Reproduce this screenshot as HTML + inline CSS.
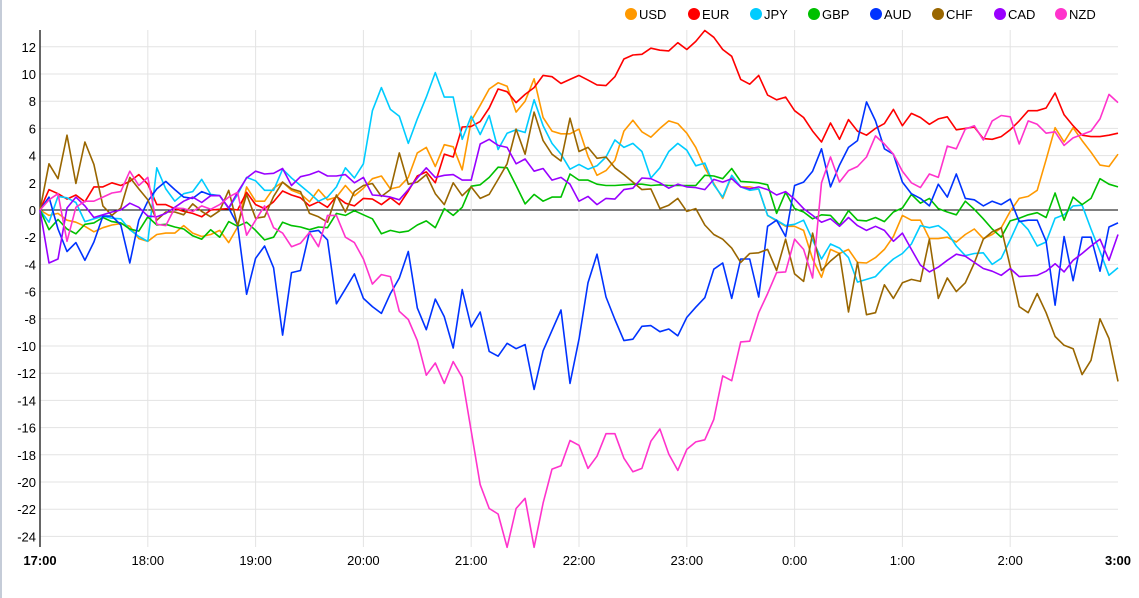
<!DOCTYPE html>
<html><head><meta charset="utf-8"><style>
html,body{margin:0;padding:0;background:#fff;}
body{width:1139px;height:598px;overflow:hidden;border-left:2px solid #c5ccd8;box-sizing:border-box;}
svg{position:absolute;left:0;top:0;font-family:"Liberation Sans",Arial,sans-serif;}
</style></head><body>
<svg id="chart" width="1139" height="598" xmlns="http://www.w3.org/2000/svg"></svg>
<script>
const currencies = ["USD","EUR","JPY","GBP","AUD","CHF","CAD","NZD"];
const colors = ["#ff9900","#ff0000","#00ccff","#00c000","#0033ff","#996600","#9900ff","#ff33cc"];
const xTickLabels = ["17:00","18:00","19:00","20:00","21:00","22:00","23:00","0:00","1:00","2:00","3:00"];
const yTicks = [12,10,8,6,4,2,0,-2,-4,-6,-8,-10,-12,-14,-16,-18,-20,-22,-24];
const USD = [0,-0.4,-0.25,-0.75,-0.9,-1.2,-1.6,-1.3,-1.1,-1.0,-1.2,-2.1,-2.3,-1.8,-1.7,-1.7,-1.15,-1.7,-1.95,-1.8,-1.5,-2.4,-1.25,1.7,0.65,0.65,1.6,2.05,1.45,1.2,0.6,1.5,0.75,0.95,1.8,1.05,1.6,2.3,2.5,1.55,1.7,2.4,4.2,4.6,3.2,4.8,4.65,2.95,6.55,7.7,8.9,9.35,9.1,7.2,8.0,9.65,6.8,5.8,5.6,5.6,5.95,3.95,2.55,2.9,3.65,5.8,6.6,5.75,5.35,6.0,6.55,6.35,5.65,4.6,3.1,1.95,0.85,2.5,1.7,1.7,1.55,-0.4,-0.8,-1.2,-1.2,-1.5,-3.6,-4.95,-2.9,-3.2,-2.9,-3.85,-3.9,-3.5,-2.9,-1.95,-0.4,-0.75,-0.75,-2.1,-2.1,-2.0,-2.35,-1.8,-1.4,-2.1,-1.8,-1.3,-0.1,0.85,1.0,1.45,3.7,6.05,5.0,6.05,5.1,4.25,3.3,3.2,4.1];
const EUR = [0,1.5,1.2,0.8,1.1,0.6,1.7,1.7,2.0,1.8,2.1,2.6,1.9,0.4,0.4,0.1,-0.1,-0.25,-0.5,0,0.05,0.1,0,1.3,0.4,0.1,0.6,1.4,1.1,0.9,0.3,0.6,0.2,1.0,0.5,0.3,0.85,0.8,0.4,0.9,0.4,1.4,2.5,2.8,2.0,4.1,3.9,6.1,6.15,6.5,7.5,8.9,8.7,7.9,8.5,9.0,9.9,9.8,9.3,9.6,9.9,9.55,9.2,9.15,9.8,11.1,11.4,11.45,11.9,11.75,11.7,12.3,11.8,12.4,13.2,12.7,11.8,11.3,9.6,9.25,9.9,8.45,8.1,8.3,7.3,6.8,5.8,5.0,6.4,5.2,6.65,5.8,5.5,6.0,6.35,7.4,6.2,7.1,6.8,6.3,6.7,6.85,5.9,6.0,6.1,5.25,5.2,5.4,5.9,6.55,7.3,7.3,7.5,8.6,7.0,6.2,5.5,5.4,5.4,5.5,5.65];
const JPY = [0,-0.9,1.0,0.9,0.55,-0.85,-0.65,-0.45,-0.6,-0.65,-1.45,-1.95,-2.3,3.1,1.55,0.65,1.2,1.35,2.25,1.15,1.05,0.1,1.15,2.4,2.15,1.45,1.45,3.0,2.35,1.8,1.25,0.65,0.95,1.7,3.1,2.35,3.4,7.3,9.0,7.4,6.9,4.9,6.7,8.3,10.1,8.3,8.3,5.2,6.9,5.55,6.95,4.45,5.65,5.9,5.7,8.1,6.2,4.9,4.1,3.0,3.35,3.0,3.25,3.9,5.15,4.6,4.9,4.3,2.35,3.1,4.3,4.9,4.4,3.25,3.45,1.85,0.95,2.55,1.7,1.45,1.55,-0.4,-0.75,-1.15,-1.05,-0.75,-2.2,-3.6,-2.5,-2.8,-3.5,-5.3,-5.1,-4.9,-4.2,-3.6,-3.2,-2.5,-1.15,-1.3,-1.15,-1.65,-2.65,-3.35,-3.2,-3.15,-4.0,-3.55,-2.2,-0.75,-1.45,-2.65,-2.35,-0.6,-0.35,0.3,0.35,-1.4,-3.05,-4.8,-4.25];
const GBP = [0,-1.45,-0.7,-1.4,-1.75,-1.05,-0.95,-0.55,-0.85,-0.95,-1.4,-1.55,-0.5,-1.1,-1.05,-1.25,-1.4,-1.9,-2.15,-1.45,-2.0,-0.85,-1.2,-0.9,-1.5,-2.2,-2.0,-0.9,-1.15,-1.25,-1.45,-1.25,-1.3,-0.25,-0.4,-0.05,-0.35,-0.65,-1.75,-1.5,-1.65,-1.55,-1.1,-0.8,-1.3,0.1,-0.4,0.2,1.75,1.85,2.4,3.15,3.1,1.8,0.45,1.15,0.65,0.95,0.95,2.65,2.2,2.2,1.9,1.8,1.8,1.85,1.9,1.9,1.8,1.85,1.8,1.8,1.8,1.8,2.55,2.5,2.3,3.05,2.1,2.05,2.0,1.85,-0.25,1.3,0.1,-0.15,-0.65,-0.35,-0.4,-1.1,-0.05,-0.75,-0.8,-0.55,-0.85,-0.15,0.15,1.15,0.5,0.85,0.1,-0.15,-0.35,0.65,0.05,-0.65,-1.4,-2.0,-0.8,-0.6,-0.35,-0.2,-0.55,1.25,-0.75,0.95,0.4,0.85,2.3,1.9,1.7];
const AUD = [0,0.95,-1.4,-3.05,-2.4,-3.7,-2.35,-0.45,-0.45,-1.1,-3.9,-0.75,0.65,1.55,2.1,1.5,0.95,0.85,1.35,1.1,1.05,0.15,-1.1,-6.2,-3.55,-2.65,-4.25,-9.2,-4.6,-4.45,-1.6,-1.5,-2.2,-6.9,-5.8,-4.7,-6.5,-7.1,-7.6,-6.15,-5.0,-3.05,-7.2,-8.8,-6.55,-7.85,-10.15,-5.85,-8.6,-7.5,-10.4,-10.75,-9.8,-10.2,-9.9,-13.2,-10.35,-8.85,-7.35,-12.75,-9.5,-5.35,-3.25,-6.4,-8.05,-9.6,-9.5,-8.55,-8.5,-8.95,-8.75,-9.25,-7.9,-7.15,-6.45,-4.35,-3.9,-6.5,-3.6,-3.6,-6.4,-1.2,-0.75,-1.95,1.8,2.05,2.85,4.5,1.7,3.3,4.6,5.1,7.95,6.55,4.5,4.1,2.05,1.2,0.85,0.3,1.9,0.95,2.65,0.85,0.75,0.3,0.65,0.4,0.8,-0.85,-0.75,-0.75,-2.3,-7.0,-1.95,-5.2,-2.0,-2.0,-4.5,-1.25,-0.95];
const CHF = [0,3.4,2.3,5.5,1.95,5.0,3.35,0.3,-0.4,0.15,2.4,1.55,0.75,-0.75,-0.15,-0.15,-0.35,0.45,-0.1,-0.5,-0.05,1.45,-1.15,1.15,-0.6,-0.5,1.0,2.05,1.55,1.35,-0.25,-0.5,-0.9,1.1,-0.15,1.35,1.8,1.95,1.0,1.5,4.2,1.9,2.05,2.6,1.2,0.4,2.0,1.05,1.7,0.85,1.15,2.25,3.4,5.95,4.1,7.2,5.1,4.1,3.6,6.75,4.3,4.6,3.8,3.9,3.1,2.6,2.05,1.5,1.55,0.1,0.35,0.85,-0.1,0.1,-1.1,-1.8,-2.15,-2.8,-3.85,-3.2,-3.15,-2.9,-4.45,-2.15,-4.7,-5.25,-1.7,-4.45,-3.75,-3.2,-7.5,-3.85,-7.7,-7.55,-5.5,-6.5,-5.35,-5.1,-5.25,-2.15,-6.5,-5.0,-6.0,-5.35,-3.9,-2.15,-1.6,-1.3,-4.15,-7.1,-7.55,-6.15,-7.55,-9.3,-9.95,-10.2,-12.1,-11.05,-8.0,-9.45,-12.6];
const CAD = [0,-3.9,-3.6,0.15,0.95,0.3,-0.55,-0.35,-0.15,0,0.5,0.2,-0.45,-0.5,-0.25,0.2,0.65,0.95,0.55,1.05,1.05,0.15,1.3,2.35,2.85,2.65,2.7,3.05,1.8,2.45,2.6,2.85,2.5,2.5,2.6,2.0,2.4,1.1,1.05,0.95,0.75,1.5,2.35,3.1,2.4,2.55,2.6,2.2,2.2,4.85,5.2,4.75,4.6,3.4,3.75,2.85,3.05,2.2,2.4,1.9,0.65,1.0,0.4,0.85,0.8,1.5,1.6,2.35,2.3,2.0,1.6,1.9,1.7,1.65,1.5,2.25,2.05,2.3,1.7,1.55,1.7,1.5,1.1,1.35,0.8,0.1,-0.4,-0.9,-0.65,-1.2,-0.55,-1.15,-1.5,-1.2,-1.5,-2.3,-1.7,-2.9,-4.05,-4.55,-4.2,-3.7,-3.25,-3.4,-3.85,-4.3,-4.5,-4.8,-4.3,-4.9,-4.85,-4.8,-4.5,-3.95,-4.55,-3.7,-3.2,-2.65,-2.15,-3.7,-1.8];
const NZD = [0,0.75,1.2,-2.3,0.2,0.65,0.65,0.95,1.25,1.35,2.85,1.8,2.4,-1.05,-1.15,0.15,0.1,-0.1,0.3,0.05,0.4,0.95,1.3,-1.85,-0.75,0.3,-1.3,-1.7,-2.7,-2.45,-1.65,-2.7,-0.4,-0.4,-2.0,-2.4,-3.6,-5.45,-4.75,-4.9,-7.45,-8.05,-9.6,-12.15,-11.25,-12.75,-11.15,-12.3,-16.25,-20.2,-21.95,-22.35,-24.8,-21.95,-21.2,-24.8,-21.55,-19.05,-18.8,-16.95,-17.3,-19.0,-18.1,-16.45,-16.45,-18.25,-19.25,-19.0,-17.0,-16.1,-17.95,-19.15,-17.6,-17.05,-16.9,-15.4,-12.2,-12.55,-9.7,-9.65,-7.55,-6.15,-4.6,-4.55,-2.15,-2.9,-5.0,2.0,3.9,2.05,2.9,3.2,3.9,5.45,4.85,4.1,2.85,2.0,1.65,2.65,2.4,4.7,4.5,5.95,6.2,5.15,6.55,6.95,6.85,4.85,6.55,6.3,5.65,5.75,4.75,5.3,5.55,5.8,6.7,8.5,7.9];
const seriesData = [USD,EUR,JPY,GBP,AUD,CHF,CAD,NZD];

const NS = "http://www.w3.org/2000/svg";
const svg = document.getElementById("chart");
const X0 = 40, X1 = 1118, YTOP = 30, YBOT = 547;
const nPts = 121;
function xScale(i){ return X0 + (X1 - X0) * i / (nPts - 1); }
function xHour(h){ return X0 + (X1 - X0) * h / 10; }
function yScale(v){ return 210 - v * 13.6; }
function mk(tag, attrs){ const e = document.createElementNS(NS, tag); for (const k in attrs) e.setAttribute(k, attrs[k]); svg.appendChild(e); return e; }

// horizontal grid + y labels
yTicks.forEach(t => {
  const g = mk("line", {x1:X0, x2:X1, y1:yScale(t), y2:yScale(t), stroke: t===0 ? "#000" : "#e3e3e3", "stroke-width":1});
  
  
  const lb = mk("text", {x:X0-4, y:yScale(t)+5, "text-anchor":"end", "font-size":13, fill:"#000"});
  lb.textContent = t;
  
  
});
// vertical grid + x labels
xTickLabels.forEach((l, h) => {
  if (h > 0 && h < 10) {
    const g = mk("line", {x1:xHour(h), x2:xHour(h), y1:YTOP, y2:YBOT, stroke:"#e3e3e3", "stroke-width":1});
    
    
  }
  const bold = (h === 0 || h === 10);
  const lb = mk("text", {x:xHour(h), y:565, "text-anchor":"middle", "font-size":13, "font-weight": bold ? "bold" : "normal", fill:"#000"});
  lb.textContent = l;
  
  
});
// axis
const ax = mk("line", {x1:X0, x2:X0, y1:YTOP, y2:YBOT, stroke:"#333", "stroke-width":1.5});



// series
seriesData.forEach((d, s) => {
  const pts = d.map((v, i) => xScale(i).toFixed(1) + "," + yScale(v).toFixed(1)).join(" ");
  const pl = mk("polyline", {points:pts, fill:"none", stroke:colors[s], "stroke-width":1.6, "stroke-linejoin":"round"});
  
  
});

// legend
const legendX = [631,694,756,814,876,938,1000,1061];
currencies.forEach((c, s) => {
  const dot = mk("circle", {cx:legendX[s], cy:14, r:6, fill:colors[s]});
  
  
  const t = mk("text", {x:legendX[s]+8, y:19, "font-size":13, fill:"#000"});
  t.textContent = c;
  
  
});
</script>
</body></html>
